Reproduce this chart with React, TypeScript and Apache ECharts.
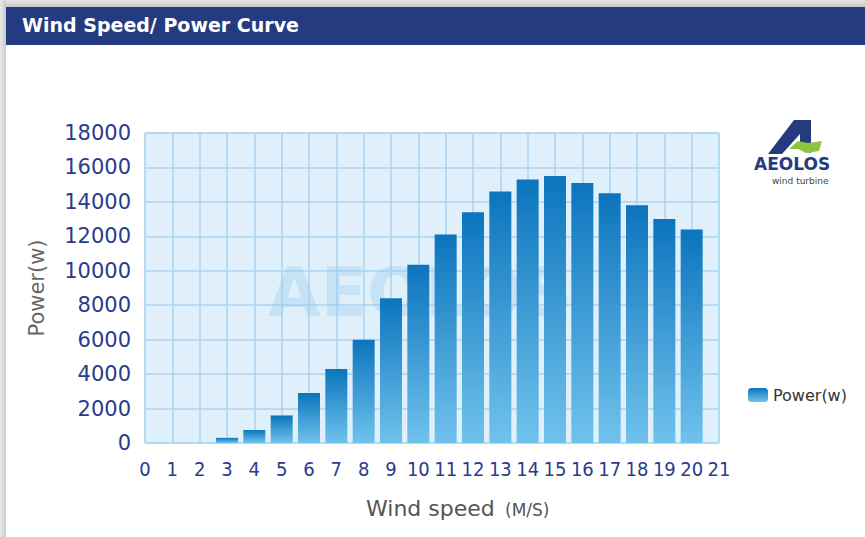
import React, { useEffect, useRef } from "react";
import * as echarts from "echarts";

const windSpeeds = [3, 4, 5, 6, 7, 8, 9, 10, 11, 12, 13, 14, 15, 16, 17, 18, 19, 20];
const powerValues = [300, 750, 1600, 2900, 4300, 6000, 8400, 10350, 12100, 13400, 14600, 15300, 15500, 15100, 14500, 13800, 13000, 12400];
const yTicks = [0, 2000, 4000, 6000, 8000, 10000, 12000, 14000, 16000, 18000];
const xTickMax = 21;

const navy = "#2a3b8c";

export default function App() {
  const ref = useRef<HTMLDivElement>(null);
  useEffect(() => {
    if (!ref.current) return;
    const chart = echarts.init(ref.current, undefined, { renderer: "svg" });
    const barGradient = new echarts.graphic.LinearGradient(0, 0, 0, 1, [
      { offset: 0, color: "#0c74bd" },
      { offset: 1, color: "#70c2ec" },
    ]);
    chart.setOption({
      animation: false,
      backgroundColor: "#ffffff",
      textStyle: { fontFamily: "DejaVu Sans" },
      grid: {
        left: 145,
        top: 133,
        right: 146,
        bottom: 94,
        show: true,
        backgroundColor: "#e0f0fb",
        borderColor: "#b6dbf3",
        borderWidth: 1,
      },
      legend: {
        left: 743,
        top: 382,
        itemWidth: 20,
        itemHeight: 14,
        itemGap: 8,
        textStyle: { fontSize: 16, color: "#333", fontFamily: "DejaVu Sans" },
        data: ["Power(w)"],
      },
      xAxis: {
        type: "value",
        min: 0,
        max: xTickMax,
        interval: 1,
        axisLine: { show: false },
        axisTick: { show: false },
        axisLabel: {
          color: navy,
          fontSize: 20,
          margin: 16,
          fontFamily: "'DejaVu Sans Condensed', 'DejaVu Sans'",
        },
        splitLine: { show: true, lineStyle: { color: "#a8d4f1", width: 1.5 } },
      },
      yAxis: {
        type: "value",
        min: yTicks[0],
        max: yTicks[yTicks.length - 1],
        interval: 2000,
        name: "Power(w)",
        nameLocation: "middle",
        nameGap: 98,
        nameTextStyle: { color: "#666", fontSize: 21, fontFamily: "DejaVu Sans" },
        axisLine: { show: false },
        axisTick: { show: false },
        axisLabel: {
          color: navy,
          fontSize: 21,
          margin: 14,
          fontFamily: "DejaVu Sans",
          formatter: (v: number) => String(v),
        },
        splitLine: { show: true, lineStyle: { color: "#a8d4f1", width: 1.5 } },
      },
      series: [
        {
          name: "Power(w)",
          type: "bar",
          barWidth: 22,
          itemStyle: { color: barGradient },
          data: windSpeeds.map((w, i) => [w, powerValues[i]]),
          z: 3,
        },
      ],
      graphic: [
        {
          type: "rect",
          left: 0,
          top: 0,
          shape: { width: 865, height: 7 },
          style: {
            fill: new echarts.graphic.LinearGradient(0, 0, 0, 1, [
              { offset: 0, color: "#e6e6e6" },
              { offset: 1, color: "#c8c8c8" },
            ]),
          },
          z: 10,
        },
        {
          type: "rect",
          left: 0,
          top: 0,
          shape: { width: 6, height: 537 },
          style: {
            fill: new echarts.graphic.LinearGradient(0, 0, 1, 0, [
              { offset: 0, color: "#e8e8e8" },
              { offset: 1, color: "#cbcbcb" },
            ]),
          },
          z: 10,
        },
        {
          type: "rect",
          left: 6,
          top: 7,
          shape: { width: 859, height: 38 },
          style: { fill: "#253b80" },
          z: 10,
        },
        {
          type: "text",
          left: 22,
          top: 15,
          style: {
            text: "Wind Speed/ Power Curve",
            fill: "#ffffff",
            font: "bold 19px 'DejaVu Sans'",
          },
          z: 11,
        },
        {
          type: "text",
          left: 268,
          top: 258,
          style: {
            text: "AEOLOS",
            fill: "rgba(150,200,240,0.35)",
            font: "bold 68px 'DejaVu Sans'",
          },
          z: 1,
        },
        {
          type: "polygon",
          shape: {
            points: [
              [768, 154],
              [794, 120],
              [811, 120],
              [811, 153],
              [800, 149],
              [800, 134],
              [782, 154],
            ],
          },
          style: { fill: "#253b80" },
          z: 10,
        },
        {
          type: "polygon",
          shape: {
            points: [
              [789, 149],
              [798, 141],
              [808, 143],
              [822, 141],
              [819, 151],
              [806, 153],
              [798, 149],
            ],
          },
          style: { fill: "#8cc63f" },
          z: 11,
        },
        {
          type: "text",
          left: 754,
          top: 155,
          style: {
            text: "AEOLOS",
            fill: "#253b80",
            font: "bold 17px 'DejaVu Sans'",
          },
          z: 10,
        },
        {
          type: "text",
          left: 772,
          top: 176,
          style: {
            text: "wind turbine",
            fill: "#444",
            font: "9px 'DejaVu Sans'",
          },
          z: 10,
        },
        {
          type: "text",
          left: 366,
          top: 497,
          style: {
            text: "Wind speed",
            fill: "#555",
            font: "22px 'DejaVu Sans'",
          },
          z: 10,
        },
        {
          type: "text",
          left: 505,
          top: 501,
          style: {
            text: "(M/S)",
            fill: "#555",
            font: "17px 'DejaVu Sans'",
          },
          z: 10,
        },
      ],
    });
    return () => chart.dispose();
  }, []);
  return (
    <div
      ref={ref}
      style={{ position: "fixed", left: 0, top: 0, width: 865, height: 537 }}
    />
  );
}
